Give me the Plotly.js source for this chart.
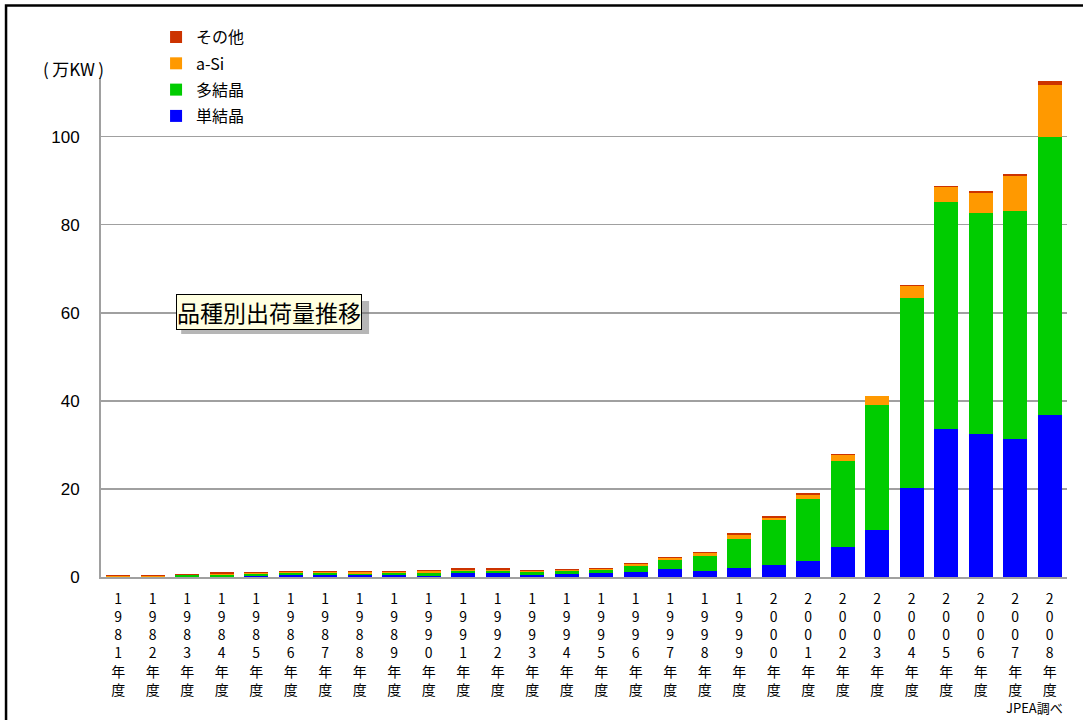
<!DOCTYPE html>
<html>
<head>
<meta charset="utf-8">
<script src="https://cdn.plot.ly/plotly-3.0.1.min.js"></script>
<style>html,body{margin:0;padding:0;background:#fff;}#chart{width:1083px;height:720px;}</style>
</head>
<body>
<div id="chart"></div>
<script>
const years = ["1981","1982","1983","1984","1985","1986","1987","1988","1989","1990","1991","1992","1993","1994","1995","1996","1997","1998","1999","2000","2001","2002","2003","2004","2005","2006","2007","2008"];
const categories = years.map(y => y + "年度");
const tickLabels = categories.map(c => c.split("").join("<br>"));

const mono  = [0.0,0.0,0.1,0.1,0.3,0.4,0.4,0.55,0.55,0.3,0.9,0.9,0.5,0.7,1.0,1.1,1.75,1.4,2.1,2.8,3.6,6.7,10.6,20.1,33.5,32.4,31.4,36.7];
const poly  = [0.0,0.0,0.35,0.35,0.4,0.4,0.4,0.1,0.3,0.6,0.35,0.35,0.6,0.6,0.7,1.3,2.05,3.45,6.6,10.2,14.0,19.7,28.4,43.3,51.7,50.3,51.7,63.2];
const aSi   = [0.2,0.2,0.1,0.3,0.1,0.35,0.35,0.5,0.3,0.4,0.45,0.45,0.35,0.2,0.2,0.5,0.45,0.55,0.8,0.5,1.0,1.4,2.1,2.7,3.4,4.6,8.0,11.7];
const other = [0.2,0.2,0.2,0.3,0.25,0.3,0.3,0.3,0.3,0.35,0.4,0.4,0.25,0.25,0.2,0.3,0.35,0.3,0.4,0.3,0.4,0.15,0.1,0.1,0.1,0.3,0.4,1.0];

const seriesNames = ["単結晶","多結晶","a-Si","その他"];
const seriesValues = [mono, poly, aSi, other];
const seriesColors = ["#0000ff","#00cc00","#ff9900","#cc3300"];

const FONT = "'Noto Sans CJK JP', 'Noto Sans', sans-serif";

const traces = seriesNames.map((n, i) => ({
  type: "bar",
  name: n,
  legendgroup: "g" + i,
  legendrank: 1000 - i,
  x: categories,
  y: seriesValues[i],
  marker: {color: seriesColors[i], line: {width: 0}},
  hoverinfo: "x+y+name"
}));

const layout = {
  width: 1083, height: 720,
  margin: {l: 101, r: 16, t: 78, b: 143},
  paper_bgcolor: "#fff", plot_bgcolor: "#fff",
  barmode: "stack",
  bargap: 0.3,
  font: {family: FONT, color: "#000", size: 13},
  showlegend: true,
  legend: {
    x: 0.057, y: 1.116, xanchor: "left", yanchor: "top",
    traceorder: "grouped",
    tracegroupgap: 2.5,
    font: {family: FONT, size: 16, color: "#000"},
    bgcolor: "rgba(0,0,0,0)", borderwidth: 0
  },
  xaxis: {
    type: "category",
    range: [-0.5, 27.5],
    tickmode: "array", tickvals: categories, ticktext: tickLabels,
    tickfont: {family: FONT, size: 14, color: "#000"},
    ticks: "outside", ticklen: 8, tickcolor: "rgba(0,0,0,0)",
    showline: true, linecolor: "#a0a0a0", linewidth: 2,
    showgrid: false, fixedrange: true
  },
  yaxis: {
    range: [0, 113.3],
    tickvals: [0,20,40,60,80,100],
    tickfont: {family: "'Liberation Sans', Arial, sans-serif", size: 17, color: "#000"},
    ticks: "outside", ticklen: 16, tickcolor: "rgba(0,0,0,0)",
    showline: true, linecolor: "#a0a0a0", linewidth: 2,
    showgrid: true, gridcolor: "#a0a0a0", gridwidth: 1.5,
    zeroline: false, fixedrange: true
  },
  shapes: [
    {type: "path", xref: "paper", yref: "paper",
     path: "M -0.0983 -0.35 L -0.0983 1.1453 L 1.05 1.1453",
     line: {color: "#000", width: 2.5}},
    {type: "rect", xref: "paper", yref: "paper",
     x0: 0.083, x1: 0.2775, y0: 0.487, y1: 0.553,
     fillcolor: "rgba(110,110,110,0.5)", line: {width: 0}, layer: "above"}
  ],
  annotations: [
    {text: "(\u2009万KW\u2009)", xref: "paper", yref: "paper", x: -0.028, y: 1.02,
     xanchor: "center", yanchor: "middle", showarrow: false,
     font: {family: FONT, size: 17, color: "#000"}},
    {text: "品種別出荷量推移", xref: "paper", yref: "paper", x: 0.1734, y: 0.532,
     xanchor: "center", yanchor: "middle", showarrow: false,
     font: {family: FONT, size: 23, color: "#000"},
     bgcolor: "#ffffe1", bordercolor: "#000", borderwidth: 1, borderpad: 0},
    {text: "JPEA調べ", xref: "paper", yref: "paper", x: 0.998, y: -0.2846,
     xanchor: "right", yanchor: "bottom", showarrow: false,
     font: {family: FONT, size: 13, color: "#000"}}
  ]
};

Plotly.newPlot("chart", traces, layout, {displayModeBar: false, staticPlot: true});
</script>
</body>
</html>
